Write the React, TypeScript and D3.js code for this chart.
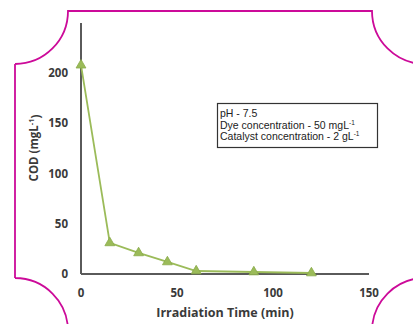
import React, { useEffect, useRef } from 'react';
import * as d3 from 'd3';

// irradiation time (min) and COD (mg/L)
const times = [0, 15, 30, 45, 60, 90, 120];
const codValues = [208, 31, 21, 12, 3, 2, 1];
const xTicks = [0, 50, 100, 150];
const yTicks = [0, 50, 100, 150, 200];
const legendLines = ['pH - 7.5', 'Dye concentration - 50 mgL', 'Catalyst concentration - 2 gL'];

function CodChart() {
  const graphRef = useRef<SVGSVGElement>(null);

  function drawChart() {
    const svg = d3.select(graphRef.current);
    svg.selectAll('*').remove();

    const width = 413;
    const height = 324;
    const font = '"Open Sans", sans-serif';
    const textColor = '#3a3a3a';

    svg.append('rect').attr('width', width).attr('height', height).attr('fill', '#fff');

    // magenta frame with cut corners
    const r = 53;
    const frame = d3.path();
    frame.moveTo(15, 11 + r);
    frame.lineTo(15, 331 - r);
    frame.moveTo(15, 11 + r);
    frame.arc(15, 11, r, Math.PI / 2, 0, true);
    frame.lineTo(425 - r, 11);
    frame.arc(425, 11, r, Math.PI, Math.PI / 2, true);
    frame.moveTo(15, 331 - r);
    frame.arc(15, 331, r, -Math.PI / 2, 0, false);
    frame.moveTo(425 - r, 331);
    frame.arc(425, 331, r, Math.PI, Math.PI * 1.5, false);
    svg.append('path')
      .attr('d', frame.toString())
      .attr('fill', 'none')
      .attr('stroke', '#cc0a99')
      .attr('stroke-width', 1.8);

    const x = d3.scaleLinear().domain([0, 150]).range([81, 369]);
    const y = d3.scaleLinear().domain([0, 250]).range([274, 23]);

    // axes
    svg.append('line')
      .attr('x1', x(0)).attr('x2', x(0))
      .attr('y1', y(250)).attr('y2', y(0))
      .attr('stroke', '#5a5a5a').attr('stroke-width', 2);
    svg.append('line')
      .attr('x1', x(0)).attr('x2', x(150))
      .attr('y1', y(0)).attr('y2', y(0))
      .attr('stroke', '#5a5a5a').attr('stroke-width', 2);

    svg.append('g').selectAll('text')
      .data(yTicks)
      .enter()
      .append('text')
        .attr('x', 68)
        .attr('y', d => y(d))
        .attr('dy', '0.35em')
        .attr('text-anchor', 'end')
        .attr('font-family', font)
        .attr('font-weight', 700)
        .attr('font-size', 11.5)
        .attr('fill', textColor)
        .text(d => d);

    svg.append('g').selectAll('text')
      .data(xTicks)
      .enter()
      .append('text')
        .attr('x', d => x(d))
        .attr('y', 293)
        .attr('dy', '0.35em')
        .attr('text-anchor', 'middle')
        .attr('font-family', font)
        .attr('font-weight', 700)
        .attr('font-size', 11.5)
        .attr('fill', textColor)
        .text(d => d);

    svg.append('text')
      .attr('x', 225)
      .attr('y', 313)
      .attr('dy', '0.35em')
      .attr('text-anchor', 'middle')
      .attr('font-family', font)
      .attr('font-weight', 700)
      .attr('font-size', 12.5)
      .attr('fill', textColor)
      .text('Irradiation Time (min)');

    const yTitle = svg.append('text')
      .attr('transform', 'translate(34,148) rotate(-90)')
      .attr('text-anchor', 'middle')
      .attr('dy', '0.35em')
      .attr('font-family', font)
      .attr('font-weight', 700)
      .attr('font-size', 11.5)
      .attr('fill', textColor);
    yTitle.append('tspan').text('COD (mgL');
    yTitle.append('tspan').attr('font-size', 7.5).attr('dy', '-0.6em').text('-1');
    yTitle.append('tspan').attr('dy', '0.6em').text(')');

    // data line and triangle markers
    const data = times.map((t, i) => ({ t, v: codValues[i] }));
    const line = d3.line<{ t: number; v: number }>()
      .x(d => x(d.t))
      .y(d => y(d.v));
    svg.append('path')
      .datum(data)
      .attr('d', line)
      .attr('fill', 'none')
      .attr('stroke', '#9bbb59')
      .attr('stroke-width', 1.8);

    const tri = d3.symbol().type(d3.symbolTriangle).size(42);
    svg.append('g').selectAll('path')
      .data(data)
      .enter()
      .append('path')
        .attr('d', tri)
        .attr('transform', d => 'translate(' + x(d.t) + ',' + y(d.v) + ')')
        .attr('fill', '#9bbb59')
        .attr('stroke', '#8aab4a')
        .attr('stroke-width', 0.8);

    // annotation box
    svg.append('rect')
      .attr('x', 217.5).attr('y', 103.5)
      .attr('width', 160).attr('height', 44)
      .attr('fill', '#fff')
      .attr('stroke', '#333')
      .attr('stroke-width', 1.2);

    const boxText = svg.append('g')
      .attr('font-family', 'Liberation Sans, Arial, sans-serif')
      .attr('font-size', 10.5)
      .attr('fill', '#222');
    legendLines.forEach((txt, i) => {
      const t = boxText.append('text')
        .attr('x', 220)
        .attr('y', 117 + i * 11.5);
      t.append('tspan').text(txt);
      if (i > 0) {
        t.append('tspan').attr('font-size', 6.5).attr('dy', '-0.6em').text('-1');
      }
    });
  }

  useEffect(() => {
    drawChart();
  }, []);

  return (
    <svg ref={graphRef} width={413} height={324}
      style={{ position: 'absolute', left: 0, top: 0 }}></svg>
  );
}

export default function App() {
  return <CodChart />;
}
